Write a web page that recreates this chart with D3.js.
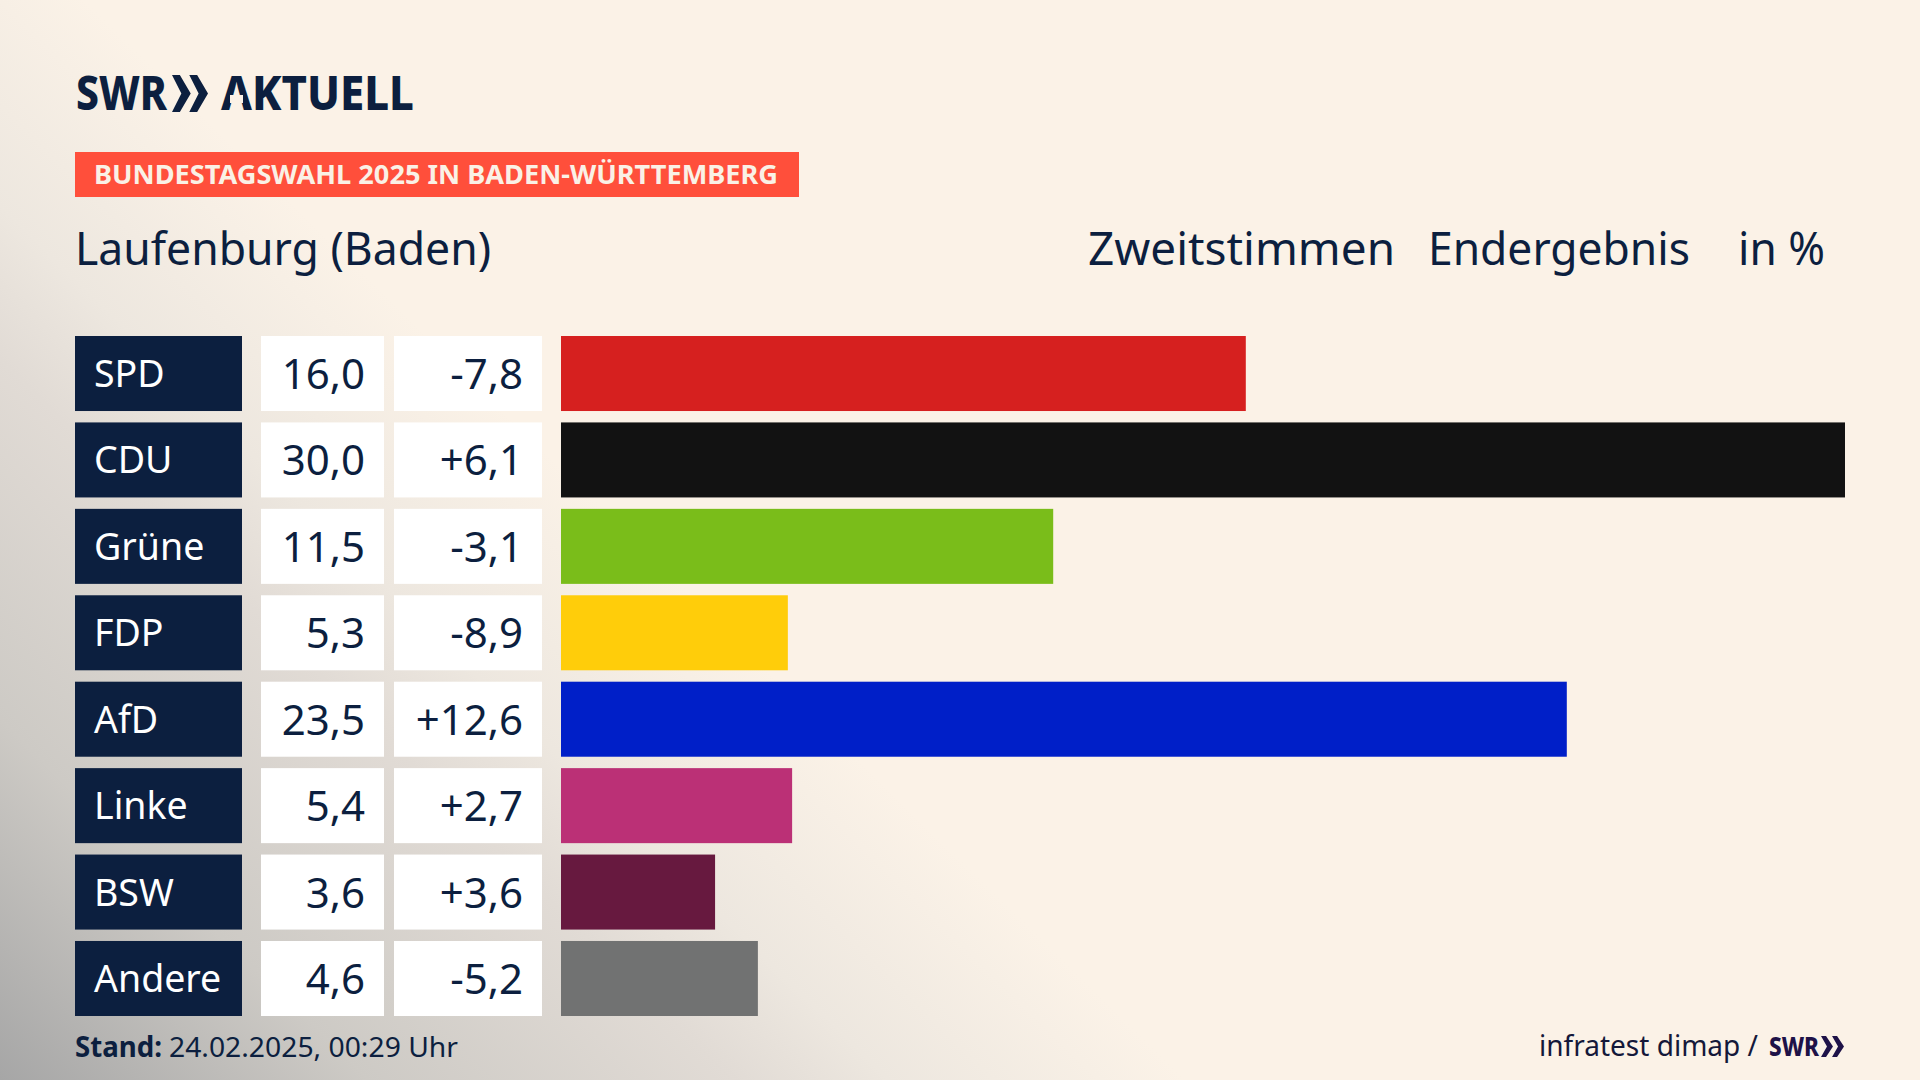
<!DOCTYPE html>
<html>
<head>
<meta charset="utf-8">
<script src="https://cdn.jsdelivr.net/npm/d3@7"></script>
<style>
html, body { margin: 0; padding: 0; background: #fbf2e7; }
svg { display: block; }
text { font-family: "Noto Sans", sans-serif; }
</style>
</head>
<body>
<script>
var w = 1920;
var h = 1080;

var parties = ["SPD", "CDU", "Grüne", "FDP", "AfD", "Linke", "BSW", "Andere"];
var shares = [16.0, 30.0, 11.5, 5.3, 23.5, 5.4, 3.6, 4.6];
var changes = [-7.8, 6.1, -3.1, -8.9, 12.6, 2.7, 3.6, -5.2];
var colors = ["#d6201f", "#121212", "#7abd1a", "#ffcd0a", "#001fc8", "#bb3076", "#67193f", "#717272"];

var navy = "#0c1f3f";

var svg = d3.select("body").append("svg").attr("width", w).attr("height", h);

// background fades diagonally to grey towards the bottom left corner
var grad = svg.append("defs").append("linearGradient")
    .attr("id", "bg")
    .attr("gradientUnits", "userSpaceOnUse")
    .attr("x1", 1142).attr("y1", 1037)
    .attr("x2", 560).attr("y2", 1630);
[[0, "#fbf2e7"], [0.072, "#f7efe5"], [0.25, "#ede7df"], [0.381, "#e1dbd5"], [0.69, "#cdcac5"], [1, "#a6a6a6"]].forEach(function (s) {
    grad.append("stop").attr("offset", s[0]).attr("stop-color", s[1]);
});
svg.append("rect").attr("width", w).attr("height", h).attr("fill", "url(#bg)");

var x = d3.scaleLinear().domain([0, 30]).range([561, 1845]);
var y = d3.scaleBand().domain(parties).range([336, 1016]).paddingInner(0.132);

function fmt(v) {
    return v.toFixed(1).replace(".", ",");
}
function fmtSigned(v) {
    return (v > 0 ? "+" : "-") + Math.abs(v).toFixed(1).replace(".", ",");
}

// text with a fixed drawn width
function label(g, str, px, py, size, width, opts) {
    opts = opts || {};
    return g.append("text")
        .attr("x", px).attr("y", py)
        .attr("font-size", size)
        .attr("font-weight", opts.weight || 400)
        .attr("fill", opts.fill || navy)
        .attr("textLength", width)
        .attr("lengthAdjust", "spacingAndGlyphs")
        .text(str);
}

// the two arrow heads of the SWR logo
function chevrons(g, px, py, wd, ht, fill) {
    var cw = wd * 0.52;
    [0, wd - cw].forEach(function (dx) {
        g.append("path")
            .attr("d", d3.line()([
                [px + dx, py], [px + dx + cw * 0.42, py], [px + dx + cw, py + ht / 2],
                [px + dx + cw * 0.42, py + ht], [px + dx, py + ht], [px + dx + cw * 0.5, py + ht / 2]
            ]) + "Z")
            .attr("fill", fill);
    });
}

var head = svg.append("g");
label(head, "SWR", 76, 110, 48, 91, {weight: 800});
chevrons(head, 172, 75, 36, 37, navy);
label(head, "AKTUELL", 221, 110, 48, 193, {weight: 800});
// the logo's A has no crossbar
head.append("rect").attr("x", 230).attr("y", 95).attr("width", 13).attr("height", 8).attr("fill", "url(#bg)");

head.append("rect").attr("x", 75).attr("y", 152).attr("width", 724).attr("height", 45).attr("fill", "#ff4f3b");
label(head, "BUNDESTAGSWAHL 2025 IN BADEN-WÜRTTEMBERG", 94, 184, 27, 684, {weight: 700, fill: "#faf1e6"});

label(head, "Laufenburg (Baden)", 75, 265, 45, 416);
label(head, "Zweitstimmen", 1088, 265, 45, 307);
label(head, "Endergebnis", 1428, 265, 45, 262);
label(head, "in %", 1738, 265, 45, 87);

var rows = svg.selectAll("g.row")
    .data(parties)
    .enter()
    .append("g")
    .attr("class", "row")
    .attr("transform", function (d) { return "translate(0," + y(d) + ")"; });

var bh = y.bandwidth();

rows.append("rect").attr("x", 75).attr("width", 167).attr("height", bh).attr("fill", navy);
rows.append("rect").attr("x", 261).attr("width", 123).attr("height", bh).attr("fill", "#ffffff");
rows.append("rect").attr("x", 394).attr("width", 148).attr("height", bh).attr("fill", "#ffffff");

rows.append("rect")
    .attr("x", x(0))
    .attr("height", bh)
    .attr("width", function (d, i) { return x(shares[i]) - x(0); })
    .attr("fill", function (d, i) { return colors[i]; });

rows.append("text")
    .attr("x", 94).attr("y", 51)
    .attr("font-size", 37.5)
    .attr("fill", "#ffffff")
    .text(function (d) { return d; });

rows.append("text")
    .attr("x", 365).attr("y", 53)
    .attr("text-anchor", "end")
    .attr("font-size", 42)
    .attr("fill", navy)
    .text(function (d, i) { return fmt(shares[i]); });

rows.append("text")
    .attr("x", 523).attr("y", 53)
    .attr("text-anchor", "end")
    .attr("font-size", 42)
    .attr("fill", navy)
    .text(function (d, i) { return fmtSigned(changes[i]); });

var foot = svg.append("g");
label(foot, "Stand:", 75, 1057, 28, 87, {weight: 700});
label(foot, "24.02.2025, 00:29 Uhr", 169, 1057, 28, 289);
label(foot, "infratest dimap /", 1539, 1056, 29, 219, {fill: "#14183a"});
label(foot, "SWR", 1769, 1056, 27, 50, {weight: 800, fill: "#1e1248"});
chevrons(foot, 1821, 1036, 23, 21, "#1e1248");
</script>
</body>
</html>
